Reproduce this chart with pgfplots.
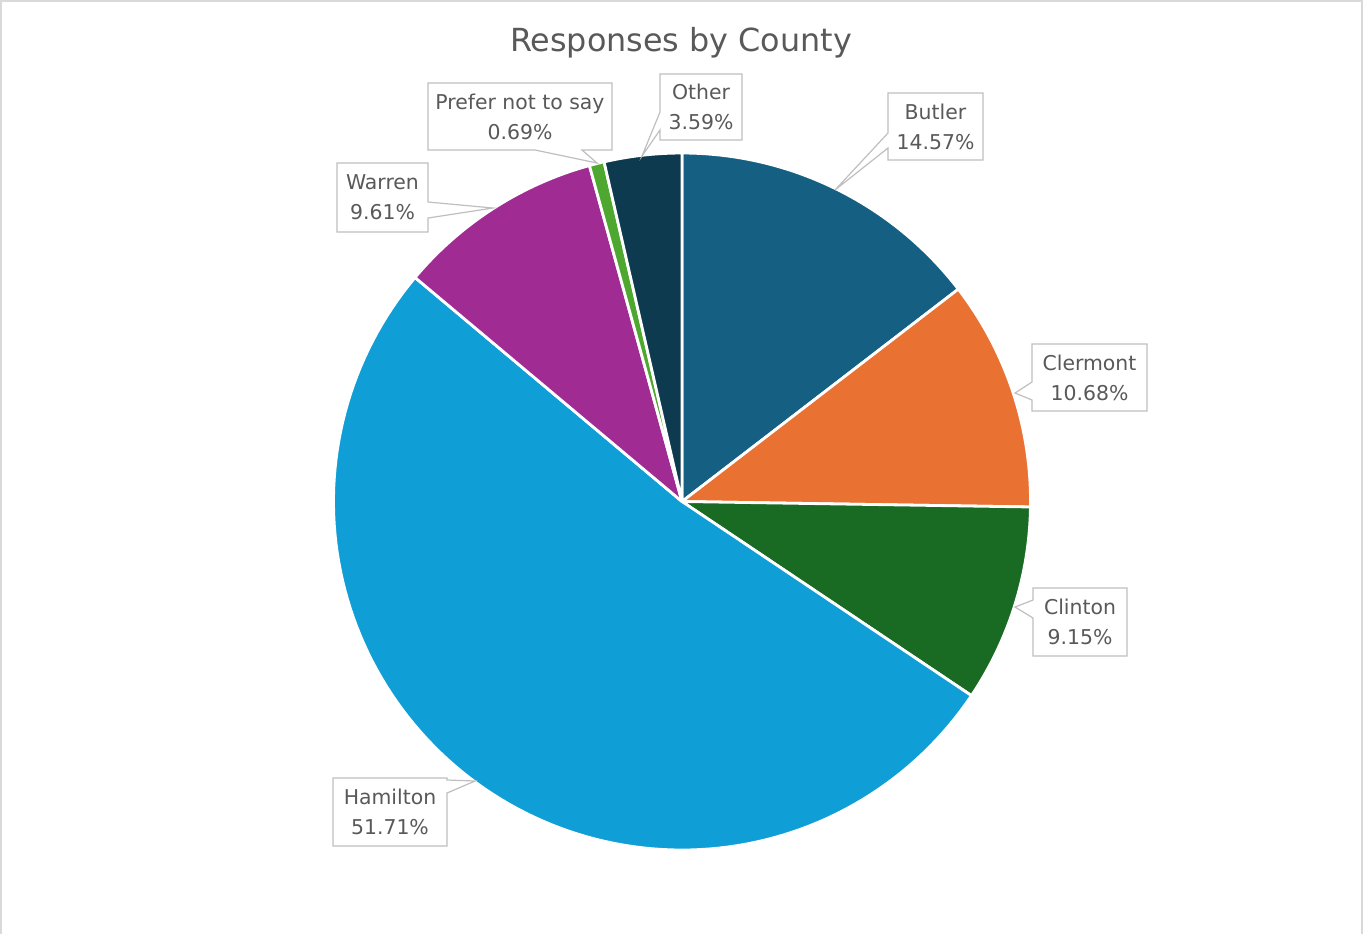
\documentclass[border=0pt]{standalone}
\usepackage{pgfplots}
\pgfplotsset{compat=1.18}
\usepackage{fontspec}
\setmainfont{DejaVu Sans}
\definecolor{butler}{HTML}{156082}
\definecolor{clermont}{HTML}{E97132}
\definecolor{clinton}{HTML}{196B24}
\definecolor{hamilton}{HTML}{0F9ED5}
\definecolor{warren}{HTML}{A02B93}
\definecolor{prefer}{HTML}{4EA72E}
\definecolor{other}{HTML}{0E3A4F}
\definecolor{txt}{HTML}{595959}
\definecolor{callline}{HTML}{BFBFBF}
\definecolor{frame}{HTML}{D9D9D9}
\newcommand{\lbl}{\fontsize{10.2}{15}\selectfont}
\begin{document}
\begin{tikzpicture}
\begin{axis}[scale only axis, width=681.5pt, height=467pt,
  xmin=0, xmax=1363, ymin=0, ymax=934, y dir=reverse,
  hide axis, clip=false]
% frame
\draw[frame, line width=0.75pt] (axis cs:1,934) -- (axis cs:1,1) -- (axis cs:1362,1) -- (axis cs:1362,934);
% pie wedges (percentages, clockwise from 12 o'clock)
\def\startang{90}
\pgfplotsforeachungrouped \v/\c in {14.57/butler, 10.68/clermont, 9.15/clinton, 51.71/hamilton, 9.61/warren, 0.69/prefer, 3.59/other}{%
  \pgfmathsetmacro\endang{\startang - 3.6*\v}%
  \edef\temp{\noexpand\addplot[fill=\c, draw=white, line width=1.4pt, line join=round, domain=\endang:\startang, samples=120] ({682+348.5*cos(x)},{501.5-348.5*sin(x)}) -- (axis cs:682,501.5) -- cycle;}%
  \temp
  \global\let\startang\endang
}
% title
\node[anchor=base, text=txt, font=\fontsize{15.9}{19}\selectfont] at (axis cs:681,51) {Responses by County};
% callouts
\tikzset{co/.style={draw=callline, fill=white, line width=0.6pt, line join=miter}}
\draw[co] (axis cs:888,93) -- (axis cs:983,93) -- (axis cs:983,160) -- (axis cs:888,160) -- (axis cs:888,148) -- (axis cs:835,190) -- (axis cs:888,133) -- cycle;
\node[text=txt, font=\lbl, align=center] at (axis cs:935.5,126.5) {Butler\\14.57\%};
\draw[co] (axis cs:1032,344) -- (axis cs:1147,344) -- (axis cs:1147,411) -- (axis cs:1032,411) -- (axis cs:1032,400) -- (axis cs:1015,393) -- (axis cs:1032,382) -- cycle;
\node[text=txt, font=\lbl, align=center] at (axis cs:1089.5,377.5) {Clermont\\10.68\%};
\draw[co] (axis cs:1033,588) -- (axis cs:1127,588) -- (axis cs:1127,656) -- (axis cs:1033,656) -- (axis cs:1033,618) -- (axis cs:1015,607) -- (axis cs:1033,600) -- cycle;
\node[text=txt, font=\lbl, align=center] at (axis cs:1080,622) {Clinton\\9.15\%};
\draw[co] (axis cs:333,778) -- (axis cs:447,778) -- (axis cs:447,780) -- (axis cs:475,781) -- (axis cs:447,793) -- (axis cs:447,846) -- (axis cs:333,846) -- cycle;
\node[text=txt, font=\lbl, align=center] at (axis cs:390,812) {Hamilton\\51.71\%};
\draw[co] (axis cs:337,163) -- (axis cs:428,163) -- (axis cs:428,202) -- (axis cs:493,208) -- (axis cs:428,218) -- (axis cs:428,232) -- (axis cs:337,232) -- cycle;
\node[text=txt, font=\lbl, align=center] at (axis cs:382.5,197.5) {Warren\\9.61\%};
\draw[co] (axis cs:428,83) -- (axis cs:612,83) -- (axis cs:612,150) -- (axis cs:582,150) -- (axis cs:597,163) -- (axis cs:535,150) -- (axis cs:428,150) -- cycle;
\node[text=txt, font=\lbl, align=center] at (axis cs:520,116.5) {Prefer not to say\\0.69\%};
\draw[co] (axis cs:660,74) -- (axis cs:742,74) -- (axis cs:742,140) -- (axis cs:660,140) -- (axis cs:660,130) -- (axis cs:642,156) -- (axis cs:660,112) -- cycle;
\node[text=txt, font=\lbl, align=center] at (axis cs:701,107) {Other\\3.59\%};
\end{axis}
\pgfresetboundingbox
\useasboundingbox (0,0) rectangle (681.5pt,467pt);
\end{tikzpicture}
\end{document}
